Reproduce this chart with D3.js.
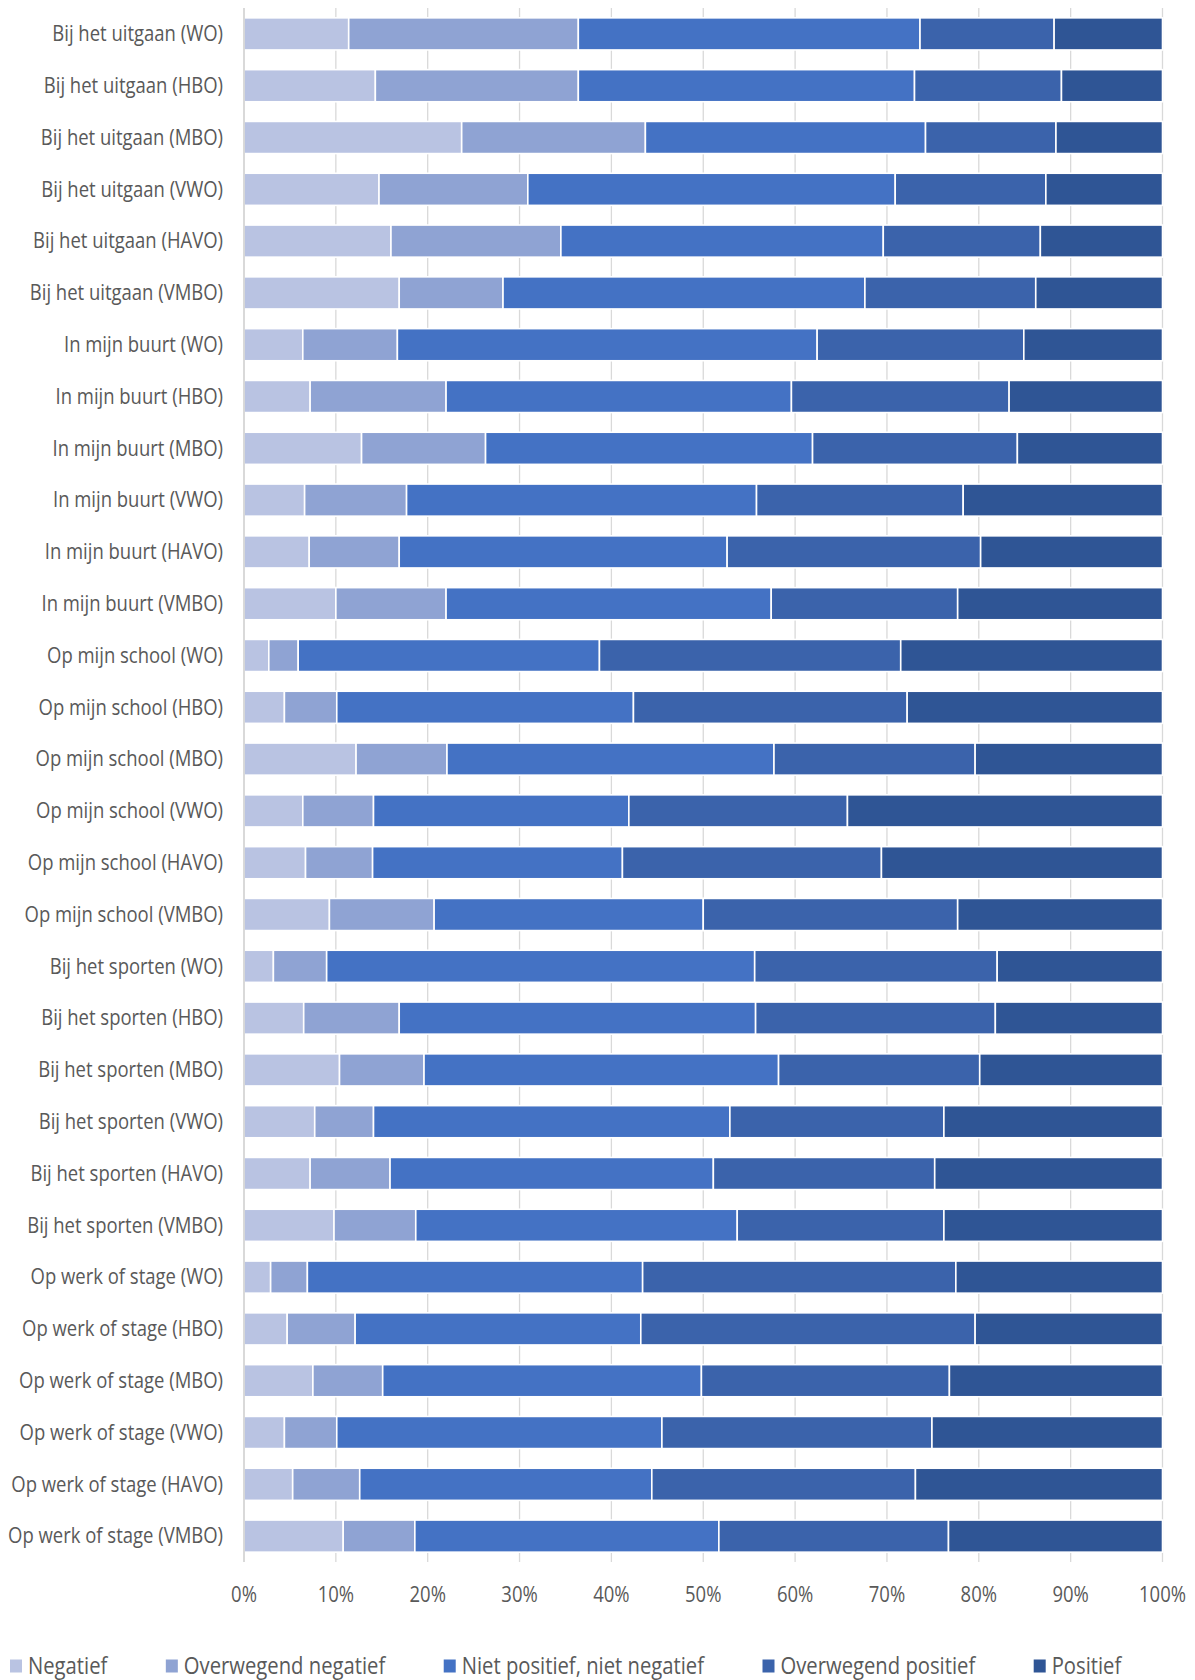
<!DOCTYPE html>
<html>
<head>
<meta charset="utf-8">
<script src="https://cdn.jsdelivr.net/npm/d3@7"></script>
<style>
  html, body { margin: 0; padding: 0; background: #fff; }
  svg { display: block; }
  text { font-family: "Open Sans", "Noto Sans", sans-serif; fill: #595959; }
</style>
</head>
<body>
<svg id="chart" width="1195" height="1680"></svg>
<script>
// ---- DATA ----
const categories = [
  "Bij het uitgaan (WO)", "Bij het uitgaan (HBO)", "Bij het uitgaan (MBO)", "Bij het uitgaan (VWO)", "Bij het uitgaan (HAVO)", "Bij het uitgaan (VMBO)",
  "In mijn buurt (WO)", "In mijn buurt (HBO)", "In mijn buurt (MBO)", "In mijn buurt (VWO)", "In mijn buurt (HAVO)", "In mijn buurt (VMBO)",
  "Op mijn school (WO)", "Op mijn school (HBO)", "Op mijn school (MBO)", "Op mijn school (VWO)", "Op mijn school (HAVO)", "Op mijn school (VMBO)",
  "Bij het sporten (WO)", "Bij het sporten (HBO)", "Bij het sporten (MBO)", "Bij het sporten (VWO)", "Bij het sporten (HAVO)", "Bij het sporten (VMBO)",
  "Op werk of stage (WO)", "Op werk of stage (HBO)", "Op werk of stage (MBO)", "Op werk of stage (VWO)", "Op werk of stage (HAVO)", "Op werk of stage (VMBO)"
];
const seriesNames = ["Negatief", "Overwegend negatief", "Niet positief, niet negatief", "Overwegend positief", "Positief"];
const negatief = [11.4,14.3,23.7,14.7,16.0,16.9, 6.4,7.2,12.8,6.6,7.1,10.0, 2.7,4.4,12.2,6.4,6.7,9.3, 3.2,6.5,10.4,7.7,7.2,9.8, 2.9,4.7,7.5,4.4,5.3,10.8];
const overwegendNegatief = [25.0,22.1,20.0,16.2,18.5,11.3, 10.3,14.8,13.5,11.1,9.8,12.0, 3.2,5.7,9.9,7.7,7.3,11.4, 5.8,10.4,9.2,6.4,8.7,8.9, 4.0,7.4,7.6,5.7,7.3,7.8];
const nietPositiefNietNegatief = [37.2,36.6,30.5,40.0,35.1,39.4, 45.7,37.6,35.6,38.1,35.7,35.4, 32.8,32.3,35.6,27.8,27.2,29.3, 46.6,38.8,38.6,38.8,35.2,35.0, 36.5,31.1,34.7,35.4,31.8,33.1];
const overwegendPositief = [14.6,16.0,14.2,16.4,17.1,18.6, 22.5,23.7,22.3,22.5,27.6,20.3, 32.8,29.8,21.9,23.8,28.2,27.7, 26.4,26.1,21.9,23.3,24.1,22.5, 34.1,36.4,27.0,29.4,28.7,25.0];
const positief = [11.8,11.0,11.6,12.7,13.3,13.8, 15.1,16.7,15.8,21.7,19.8,22.3, 28.5,27.8,20.4,34.3,30.6,22.3, 18.0,18.2,19.9,23.8,24.8,23.8, 22.5,20.4,23.2,25.1,26.9,23.3];
const tickValues = [0,10,20,30,40,50,60,70,80,90,100];
const colors = ["#b9c3e2", "#8fa3d3", "#4472c4", "#3b63ab", "#2f5595"];

// ---- BUILD ----
const seriesValues = [negatief, overwegendNegatief, nietPositiefNietNegatief, overwegendPositief, positief];
const rows = categories.map((c, i) => {
  const o = { cat: c };
  seriesNames.forEach((s, j) => { o[s] = seriesValues[j][i]; });
  return o;
});
const stacked = d3.stack().keys(seriesNames).offset(d3.stackOffsetExpand)(rows);

const svg = d3.select("#chart");
const x = d3.scaleLinear().domain([0, 1]).range([244, 1162.5]);
const y = d3.scaleBand().domain(categories).range([8, 1562]).paddingInner(0.38).paddingOuter(0.19);
const SX = 0.88; // horizontal condensing to mimic a narrow UI font

// gridlines
svg.append("g").selectAll("line").data(tickValues.filter(t => t > 0)).join("line")
  .attr("x1", d => x(d / 100)).attr("x2", d => x(d / 100))
  .attr("y1", 8).attr("y2", 1562)
  .attr("stroke", "#d9d9d9").attr("stroke-width", 1.3);

// bars
const color = d3.scaleOrdinal().domain(seriesNames).range(colors);
svg.append("g").selectAll("g").data(stacked).join("g")
  .attr("fill", d => color(d.key))
  .selectAll("rect").data(d => d).join("rect")
  .attr("x", d => x(d[0])).attr("width", d => x(d[1]) - x(d[0]))
  .attr("y", d => y(d.data.cat)).attr("height", y.bandwidth())
  .attr("stroke", "#ffffff").attr("stroke-width", 1.6);

// y axis line
svg.append("line").attr("x1", x(0)).attr("x2", x(0)).attr("y1", 8).attr("y2", 1562)
  .attr("stroke", "#d0d0d0").attr("stroke-width", 1.6);

// category labels
svg.append("g").selectAll("text").data(categories).join("text")
  .attr("transform", d => `translate(223,${y(d) + y.bandwidth() / 2}) scale(${SX},1)`)
  .attr("dy", "0.35em").attr("text-anchor", "end")
  .style("font-size", "21px").text(d => d);

// x tick labels
svg.append("g").selectAll("text").data(tickValues).join("text")
  .attr("transform", d => `translate(${x(d / 100)},1595) scale(${SX},1)`)
  .attr("dy", "0.35em")
  .attr("text-anchor", "middle").style("font-size", "21px")
  .text(d => d + "%");

// legend
const lg = svg.append("g");
let lx = 10;
seriesNames.forEach((s, i) => {
  lg.append("rect").attr("x", lx).attr("y", 1659.5).attr("width", 12).attr("height", 13).attr("fill", colors[i]);
  const t = lg.append("text")
    .attr("transform", `translate(${lx + 18},1666) scale(${SX},1)`)
    .attr("dy", "0.35em")
    .style("font-size", "23px").text(s);
  lx += 18 + t.node().getComputedTextLength() * SX + 58.5;
});
</script>
</body>
</html>
